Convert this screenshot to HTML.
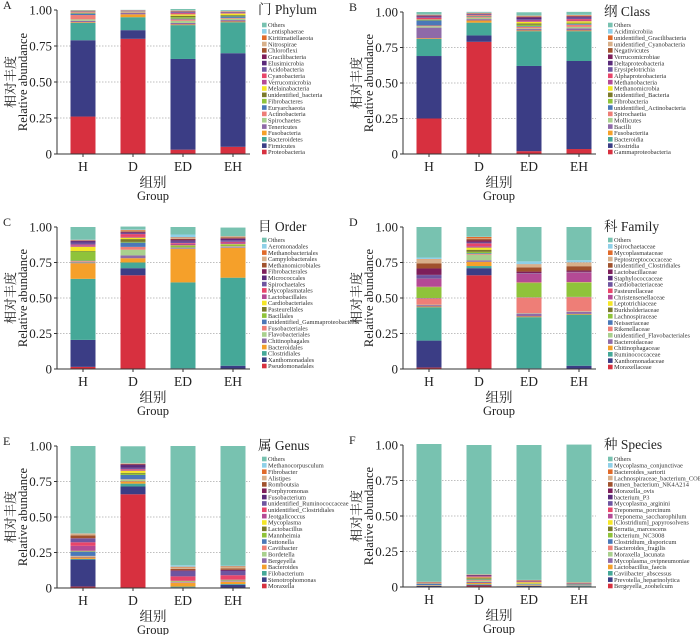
<!DOCTYPE html>
<html><head><meta charset="utf-8">
<style>
body{margin:0;background:#fff;}
svg{display:block;font-family:"Liberation Serif","Noto Serif CJK SC",serif;}
</style></head>
<body>
<svg id="fig" width="700" height="635" viewBox="0 0 700 635" xmlns="http://www.w3.org/2000/svg"></svg>
<script>
const groups = ["H","D","ED","EH"];
const yTicks = [0,0.25,0.5,0.75,1];
const yTickLabels = ["0","0.25","0.50","0.75","1.00"];
const colors = ["#d7303f","#3b3d85","#45a898","#f5a02a","#8e6aa8","#a9d08e","#ee7e77","#4a78b8","#8fc33a","#7b7a2a","#f5e626","#b44a95","#e8456a","#6e55a0","#5a2a7a","#7d1e5a","#a0522d","#d8b08a","#e06a2a","#8fd0e8","#78c2b0"];

const phylumNames = ["Proteobacteria","Firmicutes","Bacteroidetes","Fusobacteria","Tenericutes","Spirochaetes","Actinobacteria","Euryarchaeota","Fibrobacteres","unidentified_bacteria","Melainabacteria","Verrucomicrobia","Cyanobacteria","Acidobacteria","Elusimicrobia","Gracilibacteria","Chloroflexi","Nitrospirae","Kiritimatiellaeota","Lentisphaerae","Others"];
const phylumH = [.26,.53,.12,.005,.01,.01,.03,.01,.003,.002,.002,.002,.002,.002,.001,.001,.002,.002,.002,.001,.003];
const phylumD = [.80,.06,.09,.02,.01,.003,.003,.002,.001,.001,.001,.001,.001,.001,.001,.001,.001,.001,.001,.001,.001];
const phylumED = [.03,.63,.235,.005,.01,.015,.01,.005,.01,.01,.01,.005,.005,.004,.003,.002,.003,.002,.002,.003,.008];
const phylumEH = [.05,.65,.215,.005,.01,.01,.005,.01,.005,.005,.01,.003,.002,.002,.002,.002,.002,.002,.002,.003,.005];

const classNames = ["Gammaproteobacteria","Clostridia","Bacteroidia","Fusobacteriia","Bacilli","Mollicutes","Spirochaetia","unidentified_Actinobacteria","Fibrobacteria","unidentified_Bacteria","Methanomicrobia","Methanobacteria","Alphaproteobacteria","Erysipelotrichia","Deltaproteobacteria","Verrucomicrobiae","Negativicutes","unidentified_Cyanobacteria","unidentified_Gracilibacteria","Acidimicrobiia","Others"];
const classH = [.25,.44,.12,.005,.075,.01,.005,.035,.003,.003,.002,.002,.01,.005,.005,.005,.002,.002,.002,.002,.017];
const classD = [.79,.045,.09,.015,.01,.01,.005,.003,.002,.002,.002,.002,.004,.003,.003,.002,.002,.002,.002,.002,.005];
const classED = [.02,.60,.245,.005,.01,.005,.01,.005,.01,.01,.01,.005,.005,.01,.01,.005,.003,.003,.003,.002,.022];
const classEH = [.035,.62,.21,.005,.015,.01,.015,.005,.005,.005,.01,.005,.01,.01,.005,.005,.003,.003,.003,.002,.02];

const orderNames = ["Pseudomonadales","Xanthomonadales","Clostridiales","Bacteroidales","Chitinophagales","Flavobacteriales","Fusobacteriales","unidentified_Gammaproteobacteria","Bacillales","Pasteurellales","Cardiobacteriales","Lactobacillales","Mycoplasmatales","Spirochaetales","Micrococcales","Fibrobacterales","Methanomicrobiales","Campylobacterales","Methanobacteriales","Aeromonadales","Others"];
const orderH = [.015,.19,.43,.11,.005,.005,.005,.003,.065,.003,.03,.01,.005,.015,.01,.003,.002,.002,.002,.002,.088];
const orderD = [.66,.05,.04,.03,.02,.04,.02,.03,.005,.02,.01,.005,.02,.005,.005,.005,.005,.005,.005,.003,.02];
const orderED = [.003,.002,.605,.235,.005,.002,.002,.002,.01,.003,.003,.01,.005,.01,.01,.005,.005,.005,.005,.02,.053];
const orderEH = [.003,.02,.62,.21,.005,.003,.002,.002,.01,.003,.003,.01,.005,.01,.01,.005,.005,.005,.003,.002,.06];

const familyNames = ["Moraxellaceae","Xanthomonadaceae","Ruminococcaceae","Chitinophagaceae","Bacteroidaceae","unidentified_Flavobacteriales","Rikenellaceae","Neisseriaceae","Lachnospiraceae","Burkholderiaceae","Leptotrichiaceae","Christensenellaceae","Pasteurellaceae","Cardiobacteriaceae","Staphylococcaceae","Lactobacillaceae","unidentified_Clostridiales","Peptostreptococcaceae","Mycoplasmataceae","Spirochaetaceae","Others"];
const familyH = [.01,.19,.235,.005,.01,.003,.045,.002,.075,.002,.002,.055,.002,.025,.002,.045,.035,.03,.002,.01,.215];
const familyD = [.66,.05,.015,.03,.01,.04,.005,.005,.01,.015,.015,.01,.02,.005,.005,.01,.01,.005,.01,.002,.068];
const familyED = [.003,.002,.36,.005,.02,.003,.11,.002,.1,.002,.002,.06,.002,.003,.002,.01,.03,.02,.002,.02,.242];
const familyEH = [.003,.02,.36,.005,.015,.003,.1,.002,.1,.002,.002,.065,.002,.003,.002,.01,.03,.025,.002,.015,.234];

const genusNames = ["Moraxella","Stenotrophomonas","Filobacterium","Bacteroides","Bergeyella","Bordetella","Caviibacter","Suttonella","Mannheimia","Lactobacillus","Mycoplasma","Jeotgalicoccus","unidentified_Clostridiales","unidentified_Ruminococcaceae","Fusobacterium","Porphyromonas","Romboutsia","Alistipes","Fibrobacter","Methanocorpusculum","Others"];
const genusH = [.01,.19,.005,.01,.005,.003,.003,.03,.002,.002,.002,.035,.025,.025,.002,.002,.02,.01,.002,.002,.615];
const genusD = [.66,.055,.02,.015,.003,.01,.003,.03,.01,.005,.015,.005,.005,.01,.02,.005,.003,.002,.002,.002,.118];
const genusED = [.003,.002,.005,.025,.003,.002,.002,.002,.002,.002,.002,.002,.03,.035,.003,.005,.01,.01,.005,.01,.84];
const genusEH = [.003,.02,.005,.015,.003,.002,.002,.002,.002,.002,.002,.002,.03,.03,.003,.005,.01,.01,.005,.005,.842];

const speciesNames = ["Bergeyella_zoohelcum","Prevotella_heparinolytica","Caviibacter_abscessus","Lactobacillus_faecis","Mycoplasma_ovipneumoniae","Moraxella_lacunata","Bacteroides_fragilis","Clostridium_disporicum","bacterium_NC3008","Serratia_marcescens","[Clostridium]_papyrosolvens","Treponema_saccharophilum","Treponema_porcinum","Mycoplasma_arginini","bacterium_P3","Moraxella_ovis","rumen_bacterium_NK4A214","Lachnospiraceae_bacterium_COE1","Bacteroides_sartorii","Mycoplasma_conjunctivae","Others"];
const speciesH = [.002,.005,.002,.002,.001,.001,.001,.008,.001,.001,.001,.001,.001,.001,.001,.001,.003,.001,.002,.001,.97];
const speciesD = [.01,.005,.005,.008,.008,.008,.006,.003,.005,.005,.004,.004,.004,.003,.003,.003,.002,.001,.001,.002,.91];
const speciesED = [.002,.005,.002,.004,.002,.002,.001,.004,.002,.001,.008,.001,.004,.002,.002,.002,.003,.001,.001,.001,.95];
const speciesEH = [.002,.003,.002,.002,.001,.001,.001,.006,.001,.001,.001,.001,.001,.001,.001,.001,.003,.001,.002,.001,.97];

const panels = [
 {id:"a",label:"A",title:"门 Phylum",names:phylumNames,series:[phylumH,phylumD,phylumED,phylumEH],ox:0,top:10,bottom:154,legTop:25,legBot:152},
 {id:"b",label:"B",title:"纲 Class",names:classNames,series:[classH,classD,classED,classEH],ox:346,top:12,bottom:154,legTop:25,legBot:152},
 {id:"c",label:"C",title:"目 Order",names:orderNames,series:[orderH,orderD,orderED,orderEH],ox:0,top:227,bottom:369,legTop:240,legBot:366},
 {id:"d",label:"D",title:"科 Family",names:familyNames,series:[familyH,familyD,familyED,familyEH],ox:346,top:227,bottom:369,legTop:240,legBot:367},
 {id:"e",label:"E",title:"属 Genus",names:genusNames,series:[genusH,genusD,genusED,genusEH],ox:0,top:446,bottom:588,legTop:459,legBot:586},
 {id:"f",label:"F",title:"种 Species",names:speciesNames,series:[speciesH,speciesD,speciesED,speciesEH],ox:346,top:445,bottom:587,legTop:459,legBot:586}
];

const NS="http://www.w3.org/2000/svg";
const svg=document.getElementById("fig");
function mk(tag,attrs,parent,text){const e=document.createElementNS(NS,tag);for(const k in attrs)e.setAttribute(k,attrs[k]);if(text!==undefined)e.textContent=text;parent.appendChild(e);return e;}

panels.forEach(p=>{
  const g=mk("g",{},svg);
  
  
  const ox=p.ox, axX=57+ox, axEnd=250+ox;
  const y=v=>p.bottom-(p.bottom-p.top)*v;
  const xc=i=>83+ox+50*i;
  const lbl=mk("text",{x:3+ox,y:p.top-1,"font-size":12,fill:"#222"},g,p.label);
  
  
  yTicks.forEach((t,i)=>{
    if(t>0&&t<1){const gl=mk("line",{x1:axX,x2:axEnd,y1:y(t),y2:y(t),stroke:"#aaa","stroke-width":0.8,"stroke-dasharray":"1.5,1.5"},g);
      
      }
    const tk=mk("line",{x1:axX-3,x2:axX,y1:y(t),y2:y(t),stroke:"#333","stroke-width":1},g);
    
    
    const tl=mk("text",{x:axX-5,y:y(t)+4.5,"font-size":13,"text-anchor":"end",fill:"#222"},g,yTickLabels[i]);
    
    
  });
  p.series.forEach((vals,gi)=>{
    let cum=0;
    vals.forEach((v,si)=>{
      const r=mk("rect",{x:xc(gi)-12.5,width:25,y:y(cum+v),height:Math.max(0,y(cum)-y(cum+v)),fill:colors[si]},g);
      
      
      cum+=v;
    });
    const xl=mk("text",{x:xc(gi),y:p.bottom+17,"font-size":13.5,"text-anchor":"middle",fill:"#222"},g,groups[gi]);
    
    
    const xt=mk("line",{x1:xc(gi),x2:xc(gi),y1:p.bottom,y2:p.bottom+3,stroke:"#333"},g);
    
    
  });
  const ya=mk("line",{x1:axX,x2:axX,y1:p.top,y2:p.bottom,stroke:"#333","stroke-width":1},g);
  
  
  const xa=mk("line",{x1:axX,x2:axEnd,y1:p.bottom,y2:p.bottom,stroke:"#333","stroke-width":1},g);
  
  
  const mid=(p.top+p.bottom)/2;
  const t1=mk("text",{x:0,y:0,"font-size":13,"text-anchor":"middle",fill:"#222",transform:`translate(${15+ox},${mid}) rotate(-90)`},g,"相对丰度");
  
  
  const t2=mk("text",{x:0,y:0,"font-size":12.5,"text-anchor":"middle",fill:"#222",transform:`translate(${27+ox},${mid}) rotate(-90)`},g,"Relative abundance");
  
  
  const t3=mk("text",{x:153+ox,y:p.bottom+33,"font-size":13.5,"text-anchor":"middle",fill:"#222"},g,"组别");
  
  
  const t4=mk("text",{x:153+ox,y:p.bottom+46,"font-size":12.5,"text-anchor":"middle",fill:"#222"},g,"Group");
  
  
  const tt=mk("text",{x:258+ox,y:p.top+4,"font-size":13.5,fill:"#222"},g,p.title);
  
  
  const n=p.names.length, step=(p.legBot-p.legTop)/(n-1);
  for(let k=0;k<n;k++){
    const si=n-1-k, ly=p.legTop+step*k;
    const sw=mk("rect",{x:262+ox,y:ly-2.3,width:4.6,height:4.6,fill:colors[si]},g);
    
    
    const lt=mk("text",{x:268+ox,y:ly+2.2,"font-size":6.4,fill:"#333"},g,p.names[si]);
    
    
  }
});
</script>
</body></html>
